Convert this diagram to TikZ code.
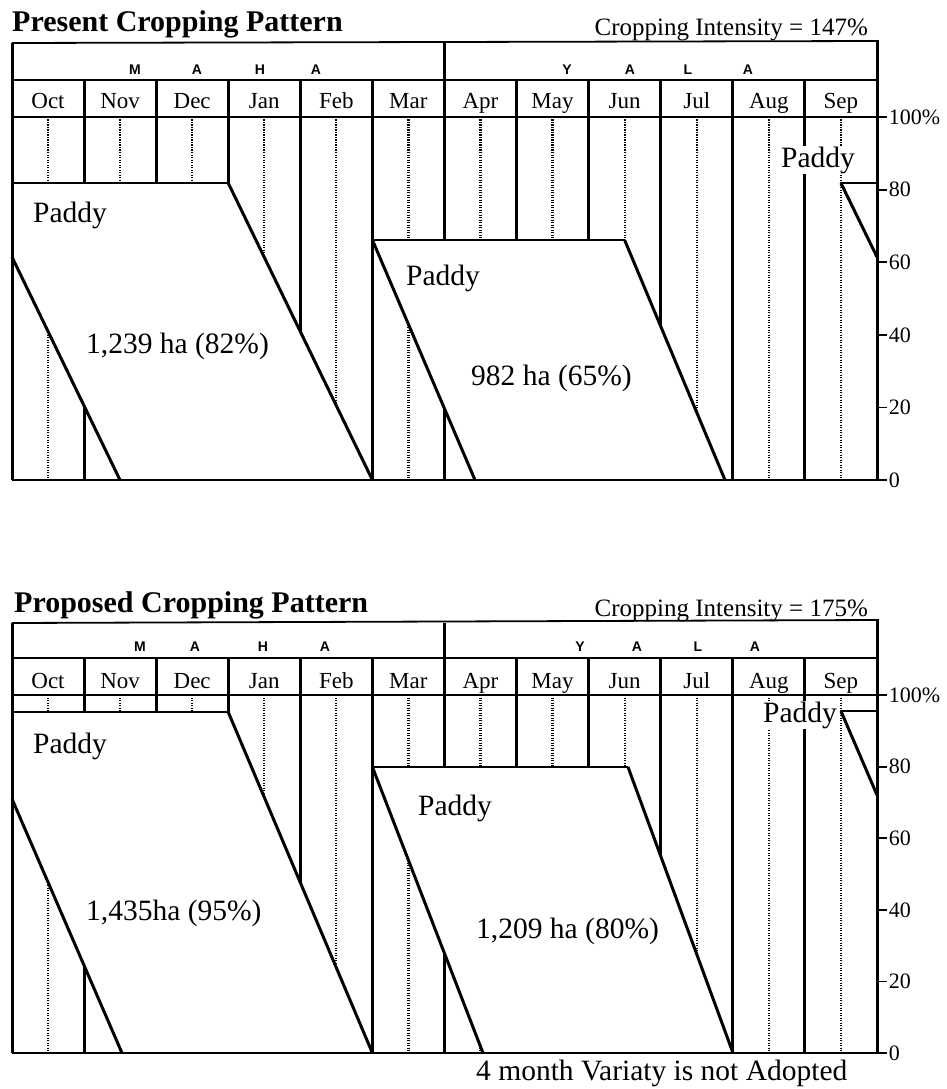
\documentclass[tikz,border=0pt]{standalone}
\usepackage{fontspec}
\setmainfont{Liberation Serif}
\setsansfont{Liberation Sans}

\begin{document}
\begin{tikzpicture}[x=1pt,y=-1pt,
  mline/.style={line width=3pt},
  hline/.style={line width=1.8pt},
  midline/.style={line width=2.2pt,dash pattern=on 1.3pt off 1.2pt},
  edge/.style={line width=3pt},
  title/.style={font=\fontsize{30}{32}\selectfont\bfseries,inner sep=0pt},
  cint/.style={font=\fontsize{25}{27}\selectfont,inner sep=0pt},
  season/.style={font=\fontsize{14}{15}\selectfont\sffamily\bfseries,inner sep=0pt},
  mon/.style={font=\fontsize{23}{24}\selectfont,inner sep=0pt,anchor=base},
  tick/.style={font=\fontsize{22}{24}\selectfont,inner sep=1pt,anchor=west},
  lbl/.style={font=\fontsize{29.5}{31}\selectfont,inner sep=1pt,anchor=base west}]
\useasboundingbox (0,0) rectangle (947,1089);

% present pattern
\node[title,anchor=base west] (ptitle) at (12,32) {Present Cropping Pattern};
\node[cint,anchor=base east] (pint) at (868,36) {Cropping Intensity = 147\%};
\foreach \m in {1,...,11} \draw[mline] ({12+72.08*\m},80) -- ({12+72.08*\m},480);
\foreach \m in {0,...,11} \draw[midline] ({48+72.08*\m},117) -- ({48+72.08*\m},480);
\draw[mline] (444.5,43) -- (444.5,80);
\fill[white] (12,183) -- (228.2,183) -- (372.4,480) -- (120,480) -- (12,257) -- cycle;
\fill[white] (840.9,183) -- (877,183) -- (877,257) -- cycle;
\fill[white] (372.4,240) -- (624.6,240) -- (725,480) -- (475,480) -- cycle;
\draw[hline] (12,183) -- (228.2,183) (840.9,183) -- (877,183) (372.4,240) -- (624.6,240);
\draw[edge] (228.2,183) -- (372.4,480) (12,257) -- (120,480) (840.9,183) -- (877,257)
  (372.4,240) -- (475,480) (624.6,240) -- (725,480);
\draw[hline] (12,43) -- (877,41) (12,80) -- (877,80) (12,117) -- (877,117);
\draw[mline] (12,43) -- (12,480) (877,40) -- (877,480);
\draw[line width=2.2pt] (12,480) -- (877,480);
\foreach \k/\t in {0/100\%,1/80,2/60,3/40,4/20,5/0}
  \draw[hline] (877,{117+72.6*\k}) -- (887,{117+72.6*\k}) node[tick] (pt\k) {\t};
\foreach \n [count=\i from 0] in {Oct,Nov,Dec,Jan,Feb,Mar,Apr,May,Jun,Jul,Aug,Sep}
  \node[mon] (pm\i) at ({48+72.08*\i},109) {\n};
\foreach \l/\x [count=\i] in {M/135,A/197,H/260,A/316,Y/567,A/630,L/688,A/748}
  \node[season] (ps\i) at (\x,70) {\l};
\node[lbl] (pmaha) at (32,222) {Paddy};
\node[lbl] (pmahaarea) at (85,353) {1,239 ha (82\%)};
\node[lbl] (pyala) at (405,285) {Paddy};
\node[lbl] (pyalaarea) at (470,385) {982 ha (65\%)};
\node[lbl,fill=white] (psep) at (780,167) {Paddy};

% proposed pattern
\node[title,anchor=base west] (qtitle) at (14,612) {Proposed Cropping Pattern};
\node[cint,anchor=base east] (qint) at (868,616) {Cropping Intensity = 175\%};
\foreach \m in {1,...,11} \draw[mline] ({12+72.08*\m},658) -- ({12+72.08*\m},1053);
\foreach \m in {0,...,11} \draw[midline] ({48+72.08*\m},695) -- ({48+72.08*\m},1053);
\draw[mline] (444.5,623) -- (444.5,658);
\fill[white] (12,712) -- (228.2,712) -- (372.4,1053) -- (122,1053) -- (12,799) -- cycle;
\fill[white] (840.9,711) -- (877,711) -- (877,795) -- cycle;
\fill[white] (372.4,767) -- (628,767) -- (733,1053) -- (483,1053) -- cycle;
\draw[hline] (12,712) -- (228.2,712) (840.9,711) -- (877,711) (372.4,767) -- (628,767);
\draw[edge] (228.2,712) -- (372.4,1053) (12,799) -- (122,1053) (840.9,711) -- (877,795)
  (372.4,767) -- (483,1053) (628,767) -- (733,1053);
\draw[hline] (12,623) -- (877,620) (12,658) -- (877,658) (12,695) -- (877,695);
\draw[mline] (12,623) -- (12,1053) (877,619) -- (877,1053);
\draw[line width=2.2pt] (12,1053) -- (877,1053);
\foreach \k/\t in {0/100\%,1/80,2/60,3/40,4/20,5/0}
  \draw[hline] (877,{695+71.6*\k}) -- (887,{695+71.6*\k}) node[tick] (qt\k) {\t};
\foreach \n [count=\i from 0] in {Oct,Nov,Dec,Jan,Feb,Mar,Apr,May,Jun,Jul,Aug,Sep}
  \node[mon] (qm\i) at ({48+72.08*\i},688) {\n};
\foreach \l/\x [count=\i] in {M/140,A/195,H/263,A/325,Y/580,A/637,L/698,A/755}
  \node[season] (qs\i) at (\x,647) {\l};
\node[lbl] (qmaha) at (32,753) {Paddy};
\node[lbl] (qmahaarea) at (85,920) {1,435ha (95\%)};
\node[lbl] (qyala) at (417,815) {Paddy};
\node[lbl] (qyalaarea) at (475,938) {1,209 ha (80\%)};
\node[lbl,fill=white] (qsep) at (762,722) {Paddy};
\node[lbl] (qnote) at (475,1080) {4 month Variaty is not Adopted};
\end{tikzpicture}
\end{document}
